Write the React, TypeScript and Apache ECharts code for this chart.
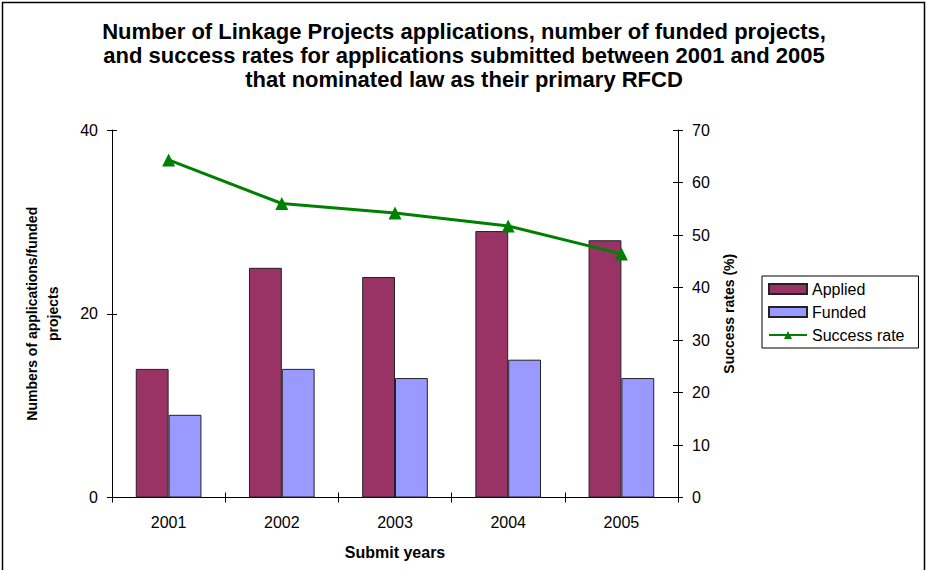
import React, { useEffect, useRef } from "react";
import * as echarts from "echarts";

const years = ["2001", "2002", "2003", "2004", "2005"];
const applied = [14, 25, 24, 29, 28];
const funded = [9, 14, 13, 15, 13];
const successRate = [64.3, 56.0, 54.2, 51.7, 46.4];

const titleText =
  "Number of Linkage Projects applications, number of funded projects,\nand success rates for applications submitted between 2001 and 2005\nthat nominated law as their primary RFCD";

const FONT = "Liberation Sans, Arial, sans-serif";

export default function App() {
  const ref = useRef<HTMLDivElement>(null);
  useEffect(() => {
    if (!ref.current) return;
    const chart = echarts.init(ref.current, undefined, { renderer: "svg" });
    const axisLine = { show: true, lineStyle: { color: "#000", width: 1 } };
    const tickOut = { show: true, inside: false, length: 5, lineStyle: { color: "#000", width: 1 } };
    const tickIn = { show: true, inside: true, length: 5, lineStyle: { color: "#000", width: 1 } };
    const labelStyle = { color: "#000", fontSize: 16, fontFamily: FONT };
    const nameStyle = { color: "#000", fontSize: 14, fontWeight: "bold" as const, fontFamily: FONT };
    chart.setOption({
      animation: false,
      backgroundColor: "#fff",
      textStyle: { fontFamily: FONT },
      title: {
        text: titleText,
        left: "center",
        top: 14,
        padding: [5, 5, 5, 11],
        textStyle: { fontSize: 22, fontWeight: "bold", color: "#000", lineHeight: 24, fontFamily: FONT },
      },
      graphic: [
        {
          type: "rect",
          shape: { x: 2.5, y: 2.5, width: 922, height: 600 },
          style: { fill: "none", stroke: "#000", lineWidth: 1.5 },
          silent: true,
          z: 100,
        },
      ],
      legend: {
        orient: "vertical",
        left: 762,
        top: 276,
        padding: [5, 14, 5, 6],
        borderColor: "#000",
        borderWidth: 1,
        backgroundColor: "#fff",
        itemWidth: 38,
        itemHeight: 10,
        itemGap: 7,
        textStyle: { color: "#000", fontSize: 16, fontFamily: FONT },
        data: [
          { name: "Applied", icon: "rect" },
          { name: "Funded", icon: "rect" },
          { name: "Success rate" },
        ],
      },
      grid: { left: 112, right: 250, top: 130, bottom: 72.5, containLabel: false },
      xAxis: [
        {
          type: "category",
          data: years,
          position: "bottom",
          axisLine,
          axisTick: tickOut,
          axisLabel: { ...labelStyle, margin: 17 },
          name: "Submit years",
          nameLocation: "middle",
          nameGap: 47,
          nameTextStyle: { ...nameStyle, fontSize: 16 },
        },
        {
          type: "category",
          data: years,
          position: "bottom",
          axisLine: { show: false },
          axisTick: tickIn,
          axisLabel: { show: false },
        },
      ],
      yAxis: [
        {
          type: "value",
          min: 0,
          max: 40,
          interval: 20,
          position: "left",
          axisLine,
          axisTick: tickOut,
          splitLine: { show: false },
          axisLabel: { ...labelStyle, margin: 14 },
          name: "Numbers of applications/funded\nprojects",
          nameLocation: "middle",
          nameRotate: 90,
          nameGap: 49,
          nameTextStyle: { ...nameStyle, lineHeight: 21 },
        },
        {
          type: "value",
          min: 0,
          max: 70,
          interval: 10,
          position: "right",
          axisLine,
          axisTick: tickOut,
          splitLine: { show: false },
          axisLabel: { ...labelStyle, margin: 14 },
          name: "Success rates (%)",
          nameLocation: "middle",
          nameRotate: 90,
          nameGap: 44,
          nameTextStyle: nameStyle,
        },
        {
          type: "value",
          min: 0,
          max: 40,
          interval: 20,
          position: "left",
          axisLine: { show: false },
          axisTick: tickIn,
          splitLine: { show: false },
          axisLabel: { show: false },
        },
        {
          type: "value",
          min: 0,
          max: 70,
          interval: 10,
          position: "right",
          axisLine: { show: false },
          axisTick: tickIn,
          splitLine: { show: false },
          axisLabel: { show: false },
        },
      ],
      series: [
        {
          name: "Applied",
          type: "bar",
          data: applied,
          barGap: "0%",
          barCategoryGap: "42%",
          itemStyle: { color: "#993366", borderColor: "#222", borderWidth: 1 },
        },
        {
          name: "Funded",
          type: "bar",
          data: funded,
          barGap: "0%",
          barCategoryGap: "42%",
          itemStyle: { color: "#9999ff", borderColor: "#222", borderWidth: 1 },
        },
        {
          name: "Success rate",
          type: "line",
          yAxisIndex: 1,
          data: successRate,
          symbol: "triangle",
          symbolSize: 13,
          lineStyle: { color: "#008000", width: 3 },
          itemStyle: { color: "#008000" },
          z: 5,
        },
      ],
    });
    return () => chart.dispose();
  }, []);
  return (
    <div
      ref={ref}
      style={{ position: "absolute", left: 0, top: 0, width: 928, height: 570 }}
    />
  );
}
